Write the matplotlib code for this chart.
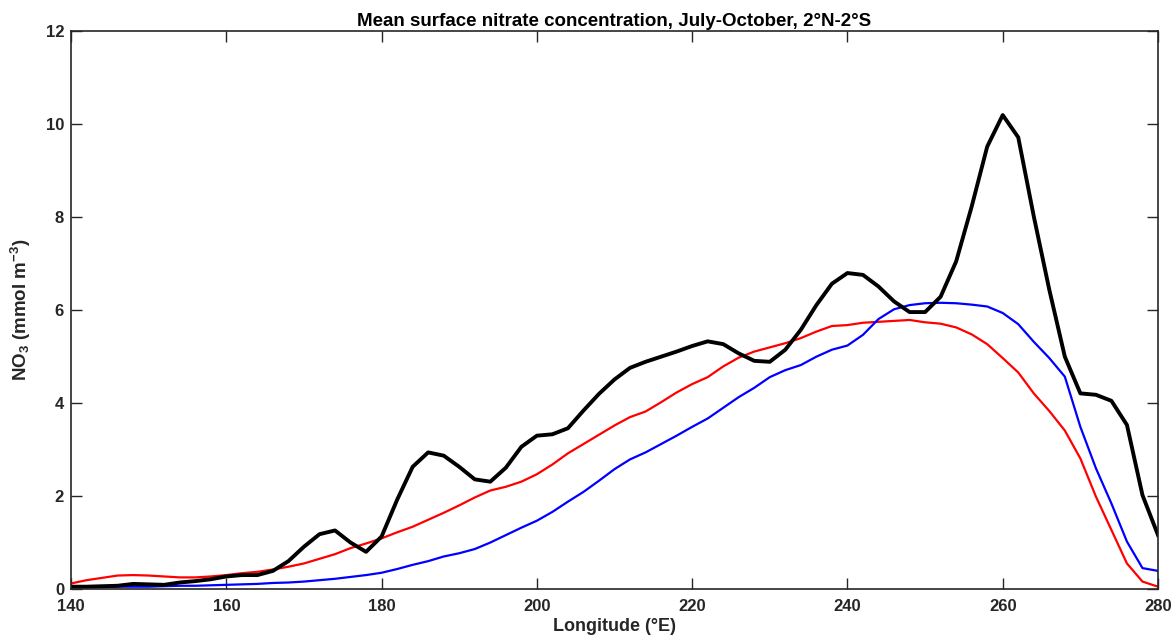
import numpy as np
import matplotlib
matplotlib.use("Agg")
import matplotlib.pyplot as plt

lon = list(range(140, 282, 2))

obs_black = [0.05, 0.05, 0.06, 0.07, 0.11, 0.10, 0.09, 0.14, 0.17, 0.21,
             0.27, 0.30, 0.30, 0.39, 0.60, 0.91, 1.18, 1.26, 1.00, 0.80,
             1.13, 1.92, 2.63, 2.94, 2.87, 2.63, 2.36, 2.31, 2.61, 3.06,
             3.30, 3.33, 3.46, 3.84, 4.20, 4.51, 4.76, 4.89, 5.00, 5.11,
             5.23, 5.33, 5.27, 5.07, 4.91, 4.89, 5.15, 5.58, 6.11, 6.57,
             6.80, 6.76, 6.51, 6.19, 5.96, 5.96, 6.29, 7.05, 8.23, 9.52,
             10.20, 9.72, 8.02, 6.44, 5.00, 4.21, 4.18, 4.05, 3.53, 2.02,
             1.16]

model_red = [0.12, 0.19, 0.24, 0.29, 0.30, 0.29, 0.27, 0.25, 0.25, 0.27,
             0.30, 0.34, 0.37, 0.42, 0.48, 0.55, 0.65, 0.75, 0.88, 0.98,
             1.09, 1.22, 1.34, 1.49, 1.64, 1.80, 1.97, 2.12, 2.20, 2.31,
             2.47, 2.68, 2.92, 3.12, 3.32, 3.52, 3.70, 3.82, 4.02, 4.23,
             4.41, 4.56, 4.79, 4.98, 5.11, 5.20, 5.29, 5.40, 5.54, 5.66,
             5.68, 5.73, 5.75, 5.77, 5.79, 5.74, 5.71, 5.63, 5.48, 5.27,
             4.97, 4.66, 4.21, 3.83, 3.41, 2.81, 1.99, 1.27, 0.55, 0.16,
             0.05]

model_blue = [0.04, 0.04, 0.04, 0.05, 0.05, 0.05, 0.06, 0.07, 0.07, 0.08,
              0.09, 0.10, 0.11, 0.13, 0.14, 0.16, 0.19, 0.22, 0.26, 0.30,
              0.35, 0.43, 0.52, 0.60, 0.70, 0.77, 0.86, 1.00, 1.16, 1.32,
              1.47, 1.66, 1.88, 2.09, 2.33, 2.58, 2.79, 2.94, 3.12, 3.30,
              3.49, 3.67, 3.90, 4.13, 4.33, 4.56, 4.71, 4.82, 5.00, 5.15,
              5.24, 5.47, 5.81, 6.02, 6.11, 6.15, 6.16, 6.15, 6.12, 6.08,
              5.94, 5.70, 5.32, 4.97, 4.57, 3.49, 2.60, 1.84, 1.02, 0.45,
              0.39]

xticks = [140, 160, 180, 200, 220, 240, 260, 280]
yticks = [0, 2, 4, 6, 8, 10, 12]

plt.rcParams['font.family'] = ['Liberation Sans', 'DejaVu Sans']
plt.rcParams['font.weight'] = 'bold'
plt.rcParams['mathtext.fontset'] = 'custom'
plt.rcParams['mathtext.rm'] = 'Liberation Sans:bold'
plt.rcParams['mathtext.bf'] = 'Liberation Sans:bold'
plt.rcParams['mathtext.it'] = 'Liberation Sans:bold'
plt.rcParams['mathtext.default'] = 'bf'

fig = plt.figure(figsize=(11.76, 6.41), dpi=100)
ax = fig.add_axes([0.0604, 0.0811, 0.9243, 0.8699])

ax.plot(lon, model_red, color='#ff0000', lw=1.6)
ax.plot(lon, model_blue, color='#0000ff', lw=1.6)
ax.plot(lon, obs_black, color='#000000', lw=2.8)

ax.set_xlim(140, 280)
ax.set_ylim(0, 12)
ax.set_xticks(xticks)
ax.set_yticks(yticks)
ax.tick_params(direction='in', length=8, width=1.0, top=True, right=True,
               colors='#262626', labelsize=12)
ax.tick_params(axis='x', pad=7)
ax.tick_params(axis='y', pad=5)
for lab in ax.get_xticklabels() + ax.get_yticklabels():
    lab.set_fontweight('bold')
for s in ax.spines.values():
    s.set_color('#262626')
    s.set_linewidth(1.2)

ax.set_xlabel('Longitude (°E)', fontsize=13, fontweight='bold', color='#262626', labelpad=3)
ax.set_ylabel(r'NO$_{3}$ (mmol m$^{-3}$)', fontsize=13.5, fontweight='bold', color='#262626', labelpad=9)
ax.set_title('Mean surface nitrate concentration, July-October, 2°N-2°S',
             fontsize=13.5, fontweight='bold', color='#000000', pad=4)

fig.savefig('out.png', dpi=100)
